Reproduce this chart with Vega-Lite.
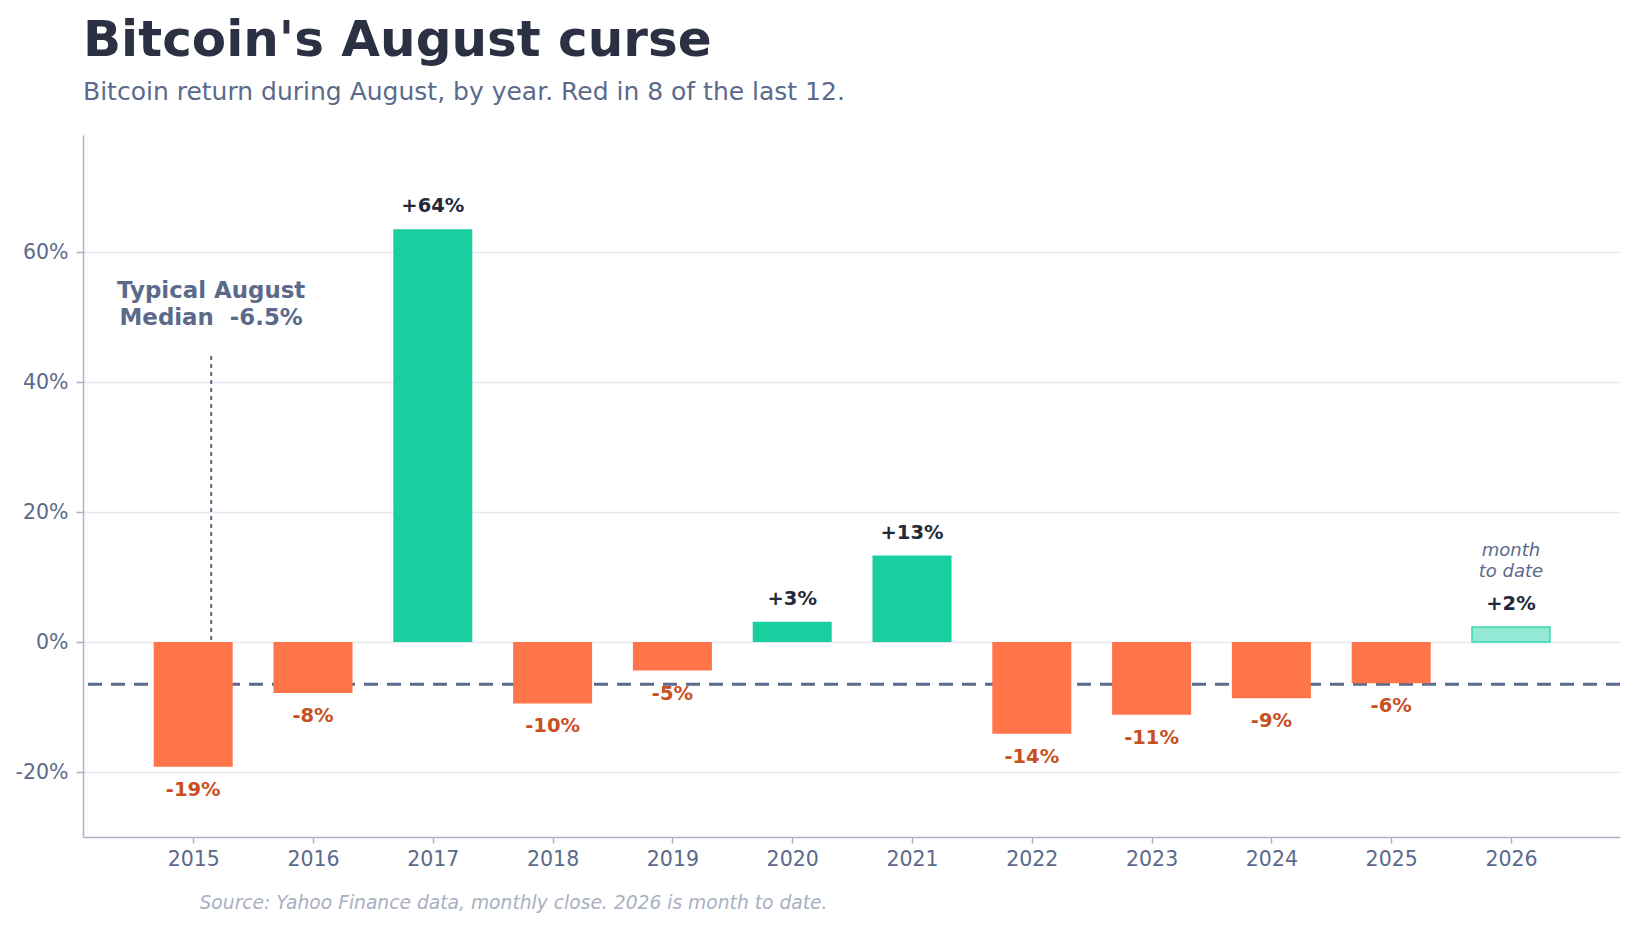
{
  "$schema": "https://vega.github.io/schema/vega-lite/v6.json",
  "width": 1537,
  "height": 702,
  "autosize": {"type": "none"},
  "padding": {"left": 83, "top": 135, "right": 15, "bottom": 90},
  "background": "white",
  "config": {
    "font": "DejaVu Sans",
    "view": {"stroke": null},
    "axis": {
      "labelFont": "DejaVu Sans",
      "labelFontSize": 20.5,
      "labelColor": "#5b6a8b",
      "domainColor": "#aab2c6",
      "domainWidth": 1.5,
      "tickColor": "#aab2c6",
      "tickWidth": 1.5,
      "tickSize": 7
    }
  },
  "title": {
    "text": "Bitcoin's August curse",
    "subtitle": "Bitcoin return during August, by year. Red in 8 of the last 12.",
    "anchor": "start",
    "frame": "group",
    "font": "DejaVu Sans",
    "fontSize": 50,
    "fontWeight": "bold",
    "color": "#2b3142",
    "subtitleFont": "DejaVu Sans",
    "subtitleFontSize": 25,
    "subtitleColor": "#5b6a8b",
    "subtitlePadding": 14,
    "offset": 30
  },
  "datasets": {
    "returns": [
      {"year": 2015, "value": -19.2, "label": "-19%", "period": "full"},
      {"year": 2016, "value": -7.85, "label": "-8%", "period": "full"},
      {"year": 2017, "value": 63.5, "label": "+64%", "period": "full"},
      {"year": 2018, "value": -9.45, "label": "-10%", "period": "full"},
      {"year": 2019, "value": -4.4, "label": "-5%", "period": "full"},
      {"year": 2020, "value": 3.1, "label": "+3%", "period": "full"},
      {"year": 2021, "value": 13.3, "label": "+13%", "period": "full"},
      {"year": 2022, "value": -14.1, "label": "-14%", "period": "full"},
      {"year": 2023, "value": -11.2, "label": "-11%", "period": "full"},
      {"year": 2024, "value": -8.65, "label": "-9%", "period": "full"},
      {"year": 2025, "value": -6.35, "label": "-6%", "period": "full"},
      {"year": 2026, "value": 2.3, "label": "+2%", "period": "month to date"}
    ],
    "median": [{"value": -6.5}],
    "medianNote": [{"year": 2015.15, "y": 54, "top": 44, "text": ["Typical August", "Median\u00a0\u00a0-6.5%"]}],
    "mtdNote": [{"year": 2026, "y": 14.0, "text": ["month", "to date"]}]
  },
  "layer": [
    {
      "data": {"name": "median"},
      "mark": {"type": "rule", "color": "#5b6a8b", "strokeWidth": 3, "strokeDash": [14, 9]},
      "encoding": {
        "y": {
          "field": "value",
          "type": "quantitative",
          "scale": {"domain": [-30, 78], "nice": false, "zero": false},
          "axis": {
            "title": null,
            "values": [-20, 0, 20, 40, 60],
            "labelExpr": "datum.value + '%'",
            "grid": true,
            "gridColor": "#e8e8ef",
            "gridWidth": 1.5,
            "labelPadding": 8
          }
        }
      }
    },
    {
      "mark": {"type": "rule", "color": "#2b3142", "strokeWidth": 2.2},
      "encoding": {"y": {"datum": 0, "type": "quantitative"}}
    },
    {
      "data": {"name": "returns"},
      "transform": [{"filter": "datum.period == 'full'"}],
      "mark": {"type": "bar", "width": 79},
      "encoding": {
        "x": {
          "field": "year",
          "type": "quantitative",
          "scale": {"domain": [2014.08, 2026.91], "nice": false, "zero": false, "padding": 0},
          "axis": {
            "title": "Source: Yahoo Finance data, monthly close. 2026 is month to date.",
            "titleFont": "DejaVu Sans",
            "titleFontSize": 18.7,
            "titleFontStyle": "italic",
            "titleFontWeight": "normal",
            "titleColor": "#a8b0c2",
            "titleAnchor": "start",
            "titleAlign": "left",
            "titleBaseline": "middle",
            "titleX": 116,
            "titleY": 65,
            "values": [2015, 2016, 2017, 2018, 2019, 2020, 2021, 2022, 2023, 2024, 2025, 2026],
            "format": "d",
            "grid": false,
            "labelPadding": 6,
            "tickSize": 6
          }
        },
        "y": {"field": "value", "type": "quantitative"},
        "y2": {"datum": 0},
        "color": {
          "condition": {"test": "datum.value < 0", "value": "#ff7449"},
          "value": "#19cfa0"
        }
      }
    },
    {
      "data": {"name": "returns"},
      "transform": [{"filter": "datum.period == 'month to date'"}],
      "mark": {"type": "bar", "width": 78, "fill": "#93e9d3", "stroke": "#3ad8ae", "strokeWidth": 1.5},
      "encoding": {
        "x": {"field": "year", "type": "quantitative"},
        "y": {"field": "value", "type": "quantitative"},
        "y2": {"datum": 0}
      }
    },
    {
      "data": {"name": "returns"},
      "transform": [{"filter": "datum.value >= 0"}],
      "mark": {"type": "text", "fontWeight": "bold", "fontSize": 19.5, "color": "#222a3a", "baseline": "middle", "dy": -23},
      "encoding": {
        "x": {"field": "year", "type": "quantitative"},
        "y": {"field": "value", "type": "quantitative"},
        "text": {"field": "label"}
      }
    },
    {
      "data": {"name": "returns"},
      "transform": [{"filter": "datum.value < 0"}],
      "mark": {"type": "text", "fontWeight": "bold", "fontSize": 19.5, "color": "#c8501e", "baseline": "middle", "dy": 23},
      "encoding": {
        "x": {"field": "year", "type": "quantitative"},
        "y": {"field": "value", "type": "quantitative"},
        "text": {"field": "label"}
      }
    },
    {
      "data": {"name": "medianNote"},
      "mark": {"type": "rule", "color": "#5b6a8b", "strokeWidth": 2, "strokeDash": [4, 4]},
      "encoding": {
        "x": {"field": "year", "type": "quantitative"},
        "y": {"field": "top", "type": "quantitative"},
        "y2": {"datum": 0}
      }
    },
    {
      "data": {"name": "medianNote"},
      "mark": {"type": "text", "fontWeight": "bold", "fontSize": 22.9, "color": "#5b6a8b", "baseline": "middle", "align": "center", "lineHeight": 26.7},
      "encoding": {
        "x": {"field": "year", "type": "quantitative"},
        "y": {"field": "y", "type": "quantitative"},
        "text": {"field": "text"}
      }
    },
    {
      "data": {"name": "mtdNote"},
      "mark": {"type": "text", "fontStyle": "italic", "fontSize": 18, "color": "#5b6a8b", "baseline": "middle", "align": "center", "lineHeight": 20.5},
      "encoding": {
        "x": {"field": "year", "type": "quantitative"},
        "y": {"field": "y", "type": "quantitative"},
        "text": {"field": "text"}
      }
    }
  ]
}
